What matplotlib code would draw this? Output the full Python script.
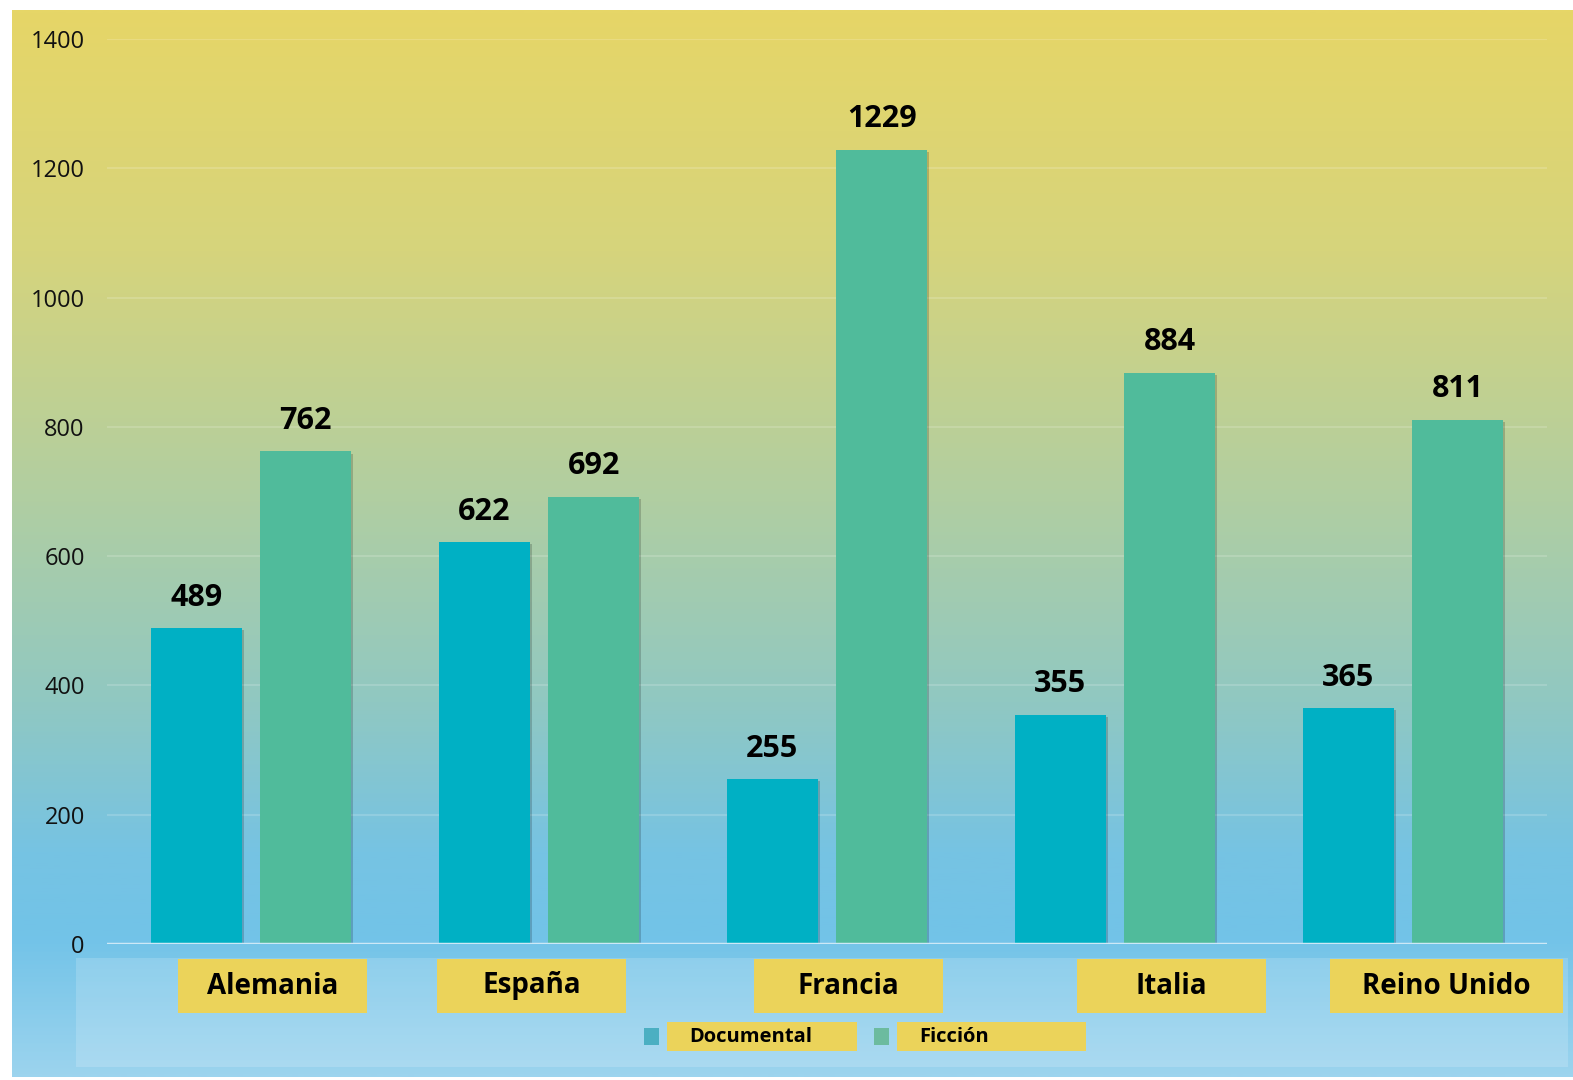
import numpy as np
import matplotlib
matplotlib.use("Agg")
from matplotlib import pyplot as plt
from matplotlib.colors import LinearSegmentedColormap
from matplotlib.patches import Rectangle
import matplotlib.patheffects as pe

# datos
paises = ["Alemania", "España", "Francia", "Italia", "Reino Unido"]
documental = [489, 622, 255, 355, 365]
ficcion = [762, 692, 1229, 884, 811]
series = ["Documental", "Ficción"]

col_doc = "#00B0C4"
col_fic = "#50BB9B"
amarillo = "#EBD35A"

W, H = 1573, 1080
plt.rcParams['font.family'] = ['Open Sans', 'DejaVu Sans']
fig = plt.figure(figsize=(W / 100, H / 100), dpi=100, facecolor='white')

def fx(px):
    return px / W

def fy(py):
    return 1 - py / H

# fondo degradado
bg = fig.add_axes([fx(12), fy(1077), fx(W - 12), (1077 - 10) / H], zorder=0)
stops = [(0.0, "#E6D667"), (0.225, "#D6D47C"), (0.46, "#B0CEA2"),
         (0.65, "#90C8C2"), (0.79, "#76C3E3"), (0.87, "#72C3E8"), (1.0, "#9CD4EE")]
cmap = LinearSegmentedColormap.from_list("fondo", stops)
grad = np.linspace(0, 1, 512).reshape(-1, 1)
bg.imshow(grad, aspect='auto', cmap=cmap, extent=[0, 1, 0, 1], origin='upper')
bg.set_axis_off()

# banda inferior mas clara
fig.patches.append(Rectangle((fx(76), fy(1067)), fx(1568 - 76), (1067 - 958) / H,
                             transform=fig.transFigure, facecolor='white', alpha=0.17,
                             edgecolor='none', zorder=1))

ax = fig.add_axes([fx(107), fy(944), fx(1440), (944 - 39) / H], zorder=2)
ax.patch.set_alpha(0)

x = np.arange(len(paises))
ancho = 0.315
off = 0.19
sombra = [pe.SimplePatchShadow(offset=(1.5, -1.5), shadow_rgbFace='black', alpha=0.18), pe.Normal()]
b1 = ax.bar(x - off, documental, ancho, color=col_doc, zorder=3)
b2 = ax.bar(x + off, ficcion, ancho, color=col_fic, zorder=3)
for b in list(b1) + list(b2):
    b.set_path_effects(sombra)

for barras, vals in [(b1, documental), (b2, ficcion)]:
    for b, v in zip(barras, vals):
        ax.annotate(str(v), (b.get_x() + b.get_width() / 2, v), xytext=(0, 11),
                    textcoords='offset points', ha='center', va='bottom',
                    fontsize=22, fontweight='bold', color='black', zorder=4)

ax.set_xlim(-0.5, len(paises) - 0.5)
ax.set_ylim(0, 1400)
ax.set_yticks(range(0, 1401, 200))
ax.tick_params(axis='y', length=0, pad=16, labelsize=17, labelcolor='#111111')
ax.set_xticks([])
ax.grid(axis='y', color='white', alpha=0.16, linewidth=1.5, zorder=0)
for s in ax.spines.values():
    s.set_visible(False)
ax.axhline(0, color='#CDE8F6', linewidth=2.5, zorder=5)

# etiquetas de categoria en cajas amarillas
cajas = [(178, 367), (437, 626), (754, 943), (1077, 1266), (1330, 1563)]
for nombre, (x0, x1) in zip(paises, cajas):
    fig.patches.append(Rectangle((fx(x0), fy(1013)), fx(x1 - x0), (1013 - 959) / H,
                                 transform=fig.transFigure, facecolor=amarillo,
                                 edgecolor='none', zorder=3))
    fig.text(fx((x0 + x1) / 2), fy(986), nombre, ha='center', va='center',
             fontsize=20, fontweight='bold', color='black', zorder=4)

# leyenda
leyenda = [(644, 667, 857, "#4BAFC2"), (874, 897, 1086, "#6CBB9F")]
for nombre, (sq, x0, x1, c) in zip(series, leyenda):
    fig.patches.append(Rectangle((fx(sq), fy(1045)), fx(15), 17 / H,
                                 transform=fig.transFigure, facecolor=c,
                                 edgecolor='none', zorder=3))
    fig.patches.append(Rectangle((fx(x0), fy(1051)), fx(x1 - x0), 29 / H,
                                 transform=fig.transFigure, facecolor=amarillo,
                                 edgecolor='none', zorder=3))
    fig.text(fx(x0 + 22), fy(1037), nombre, ha='left', va='center',
             fontsize=14.5, fontweight='bold', color='black', zorder=4)

plt.savefig("out.png", dpi=100, facecolor='white')
